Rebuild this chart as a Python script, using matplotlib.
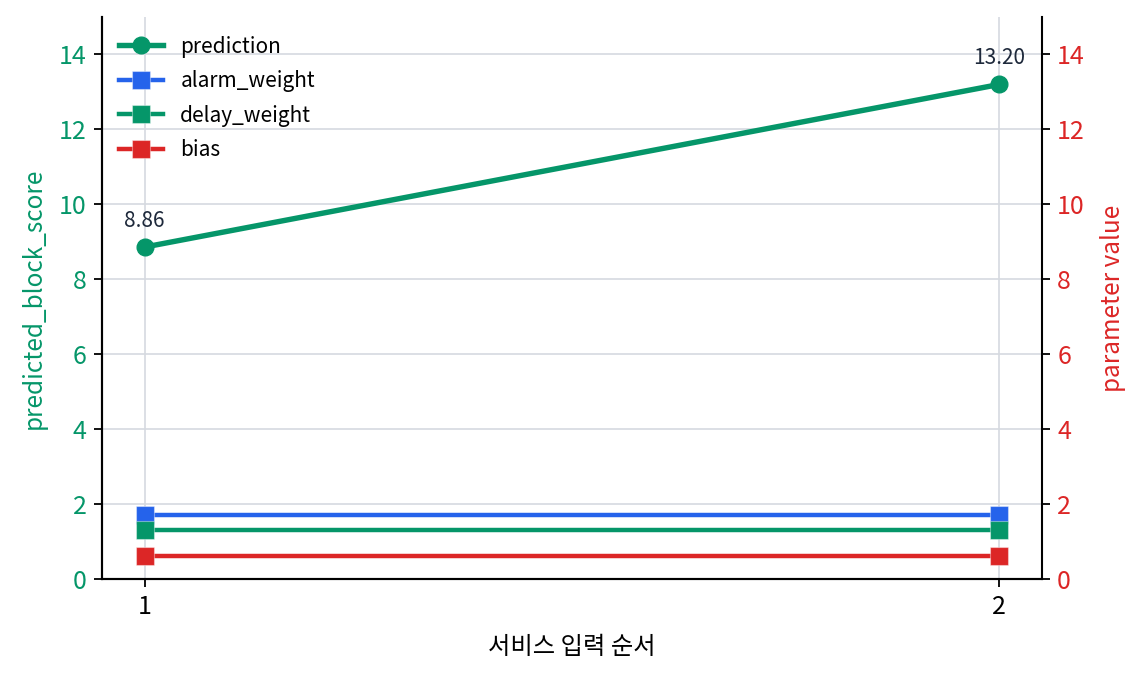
import matplotlib
matplotlib.use("Agg")
import matplotlib.pyplot as plt

plt.rcParams['font.family'] = ['Noto Sans CJK KR', 'DejaVu Sans']

x = [1, 2]
prediction = [8.86, 13.20]
alarm_weight = [1.7, 1.7]
delay_weight = [1.3, 1.3]
bias = [0.62, 0.62]

GREEN = '#059669'
BLUE = '#2563eb'
RED = '#dc2626'
TXT = '#1e293b'
GRID = '#d5d9e0'

fig, ax = plt.subplots(figsize=(11.43, 6.75), dpi=100)
fig.subplots_adjust(left=0.0892, right=0.9116, top=0.9748, bottom=0.1422)
ax2 = ax.twinx()

l1, = ax.plot(x, prediction, color=GREEN, lw=3.9, marker='o', ms=12, label='prediction', zorder=3)
for xi, yi in zip(x, prediction):
    ax.annotate(f'{yi:.2f}', (xi, yi), xytext=(0, 11), textcoords='offset points',
                ha='center', va='bottom', fontsize=15, color=TXT)

sq = dict(marker='s', ms=12.5, markeredgecolor='#ffffff66', markeredgewidth=0.8, lw=3.2)
l2, = ax2.plot(x, alarm_weight, color=BLUE, label='alarm_weight', **sq)
l3, = ax2.plot(x, delay_weight, color=GREEN, label='delay_weight', **sq)
l4, = ax2.plot(x, bias, color=RED, label='bias', **sq)

ax.set_xlim(0.95, 2.05)
ax.set_ylim(0, 15)
ax2.set_ylim(0, 15)
ax.set_xticks(x)
ax.set_xticklabels(['1', '2'])
ax.set_yticks(range(0, 15, 2))
ax2.set_yticks(range(0, 15, 2))

ax.grid(True, color=GRID, lw=1.2)
ax.set_axisbelow(True)

for a in (ax, ax2):
    a.tick_params(length=6, width=1.3, color='black', labelsize=18, pad=5)
    for s in a.spines.values():
        s.set_linewidth(1.5)
ax.tick_params(axis='y', labelcolor=GREEN)
ax.tick_params(axis='x', labelcolor='black')
ax2.tick_params(axis='y', labelcolor=RED)

ax.set_xlabel('서비스 입력 순서', fontsize=17.5, color='black', labelpad=10)
ax.set_ylabel('predicted_block_score', fontsize=17.5, color=GREEN, labelpad=9)
ax2.set_ylabel('parameter value', fontsize=17.5, color=RED, labelpad=11)

ax.spines['top'].set_visible(False)
ax2.spines['top'].set_visible(False)
ax.spines['right'].set_visible(False)

ax.legend(handles=[l1, l2, l3, l4], loc='upper left', frameon=False, fontsize=15,
          handlelength=2.1, handletextpad=0.85, labelspacing=0.6,
          bbox_to_anchor=(-0.002, 1.0))

fig.savefig('out.png', dpi=100)
